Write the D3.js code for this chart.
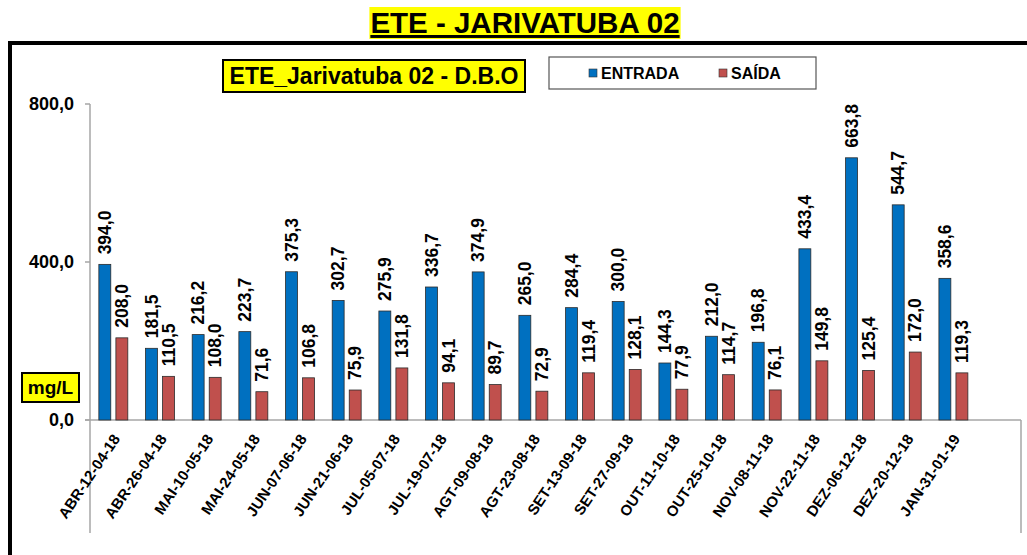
<!DOCTYPE html>
<html lang="pt">
<head>
  <meta charset="UTF-8">
  <title>ETE - JARIVATUBA 02</title>
  <script src="https://d3js.org/d3.v7.min.js"></script>
  <style>
    body { margin: 0; background: #ffffff; }
    svg { display: block; font-family: "Liberation Sans", Arial, sans-serif; font-weight: bold; }
  </style>
</head>
<body>
  <script>
    const width = 1027;
    const height = 555;

    const categories = ["ABR-12-04-18", "ABR-26-04-18", "MAI-10-05-18", "MAI-24-05-18", "JUN-07-06-18",
                        "JUN-21-06-18", "JUL-05-07-18", "JUL-19-07-18", "AGT-09-08-18", "AGT-23-08-18",
                        "SET-13-09-18", "SET-27-09-18", "OUT-11-10-18", "OUT-25-10-18", "NOV-08-11-18",
                        "NOV-22-11-18", "DEZ-06-12-18", "DEZ-20-12-18", "JAN-31-01-19"];
    const entrada = [394.0, 181.5, 216.2, 223.7, 375.3, 302.7, 275.9, 336.7, 374.9, 265.0,
                     284.4, 300.0, 144.3, 212.0, 196.8, 433.4, 663.8, 544.7, 358.6];
    const saida = [208.0, 110.5, 108.0, 71.6, 106.8, 75.9, 131.8, 94.1, 89.7, 72.9,
                   119.4, 128.1, 77.9, 114.7, 76.1, 149.8, 125.4, 172.0, 119.3];
    const seriesNames = ["ENTRADA", "SAÍDA"];
    const yTicks = [0, 400, 800];

    const colors = d3.scaleOrdinal().domain(seriesNames).range(["#0070C0", "#C0504D"]);
    const fmt = v => v.toFixed(1).replace(".", ",");

    const plot = { left: 90, right: 1021, top: 104, zero: 420, bottom: 533 };

    const x0 = d3.scaleBand().domain(categories).range([plot.left, plot.left + 46.67 * categories.length]);
    const x1 = d3.scaleBand().domain(seriesNames).range([0, x0.bandwidth()]).paddingInner(0.3).paddingOuter(0.52);
    const y = d3.scaleLinear().domain([0, 800]).range([plot.zero, plot.top]);

    const svg = d3.select("body").append("svg")
        .attr("width", width)
        .attr("height", height);

    // outer frame
    svg.append("path")
        .attr("d", `M10,${height + 5} L10,43 L${width + 5},43`)
        .attr("fill", "none")
        .attr("stroke", "#000")
        .attr("stroke-width", 4);

    // main title
    const title = svg.append("g");
    const titleText = title.append("text")
        .attr("x", 525).attr("y", 33)
        .attr("text-anchor", "middle")
        .attr("font-size", 29.5)
        .attr("text-decoration", "underline")
        .text("ETE - JARIVATUBA 02");
    const tb = titleText.node().getBBox();
    title.insert("rect", "text")
        .attr("x", tb.x - 1).attr("y", 7)
        .attr("width", tb.width + 2).attr("height", 32)
        .attr("fill", "#FFFF00");

    // axes lines
    const grid = svg.append("g").attr("stroke", "#A6A6A6").attr("stroke-width", 1.5);
    grid.append("line").attr("x1", plot.left).attr("x2", plot.left).attr("y1", plot.top).attr("y2", plot.bottom);
    grid.append("line").attr("x1", plot.right).attr("x2", plot.right).attr("y1", plot.zero).attr("y2", plot.bottom);
    grid.append("line").attr("x1", plot.left - 5).attr("x2", plot.right).attr("y1", plot.zero).attr("y2", plot.zero);
    grid.selectAll("line.tick").data(yTicks).join("line")
        .attr("class", "tick")
        .attr("x1", plot.left - 5).attr("x2", plot.left)
        .attr("y1", d => y(d)).attr("y2", d => y(d));

    svg.append("g").selectAll("text").data(yTicks).join("text")
        .attr("x", 74).attr("y", d => y(d))
        .attr("dy", "0.35em")
        .attr("text-anchor", "end")
        .attr("font-size", 18)
        .text(d => fmt(d));

    // bars
    const rows = categories.map((c, i) => ({ cat: c, values: [entrada[i], saida[i]] }));
    const groups = svg.append("g").selectAll("g").data(rows).join("g")
        .attr("transform", d => `translate(${x0(d.cat)},0)`);

    groups.selectAll("rect").data(d => d.values.map((v, j) => ({ key: seriesNames[j], v })))
      .join("rect")
        .attr("x", d => x1(d.key))
        .attr("y", d => y(d.v))
        .attr("width", x1.bandwidth())
        .attr("height", d => y(0) - y(d.v))
        .attr("fill", d => colors(d.key))
        .attr("stroke", "#2b2b2b")
        .attr("stroke-width", 0.8);

    groups.selectAll("text").data(d => d.values.map((v, j) => ({ key: seriesNames[j], v })))
      .join("text")
        .attr("transform", d => `translate(${x1(d.key) + x1.bandwidth() / 2},${y(d.v) - 10}) rotate(-90)`)
        .attr("dy", "0.35em")
        .attr("font-size", 17.5)
        .text(d => fmt(d.v));

    // category labels
    svg.append("g").selectAll("text").data(categories).join("text")
        .attr("transform", d => `translate(${x0(d) + x0.bandwidth() / 2 + 3},${plot.zero + 16}) rotate(-56)`)
        .attr("dy", "0.35em")
        .attr("text-anchor", "end")
        .attr("font-size", 15)
        .text(d => d);

    // chart subtitle
    svg.append("rect")
        .attr("x", 223).attr("y", 60).attr("width", 302).attr("height", 32)
        .attr("fill", "#FFFF00").attr("stroke", "#000").attr("stroke-width", 2);
    svg.append("text")
        .attr("x", 374).attr("y", 84)
        .attr("text-anchor", "middle")
        .attr("font-size", 23)
        .text("ETE_Jarivatuba 02 - D.B.O");

    // unit box
    svg.append("rect")
        .attr("x", 22).attr("y", 373).attr("width", 57).attr("height", 29)
        .attr("fill", "#FFFF00").attr("stroke", "#000").attr("stroke-width", 2);
    svg.append("text")
        .attr("x", 50.5).attr("y", 394)
        .attr("text-anchor", "middle")
        .attr("font-size", 19)
        .text("mg/L");

    // legend
    svg.append("rect")
        .attr("x", 549).attr("y", 57).attr("width", 267).attr("height", 32)
        .attr("fill", "#fff").attr("stroke", "#555").attr("stroke-width", 1.2);
    const legendX = [589, 719];
    const lg = svg.append("g").selectAll("g").data(seriesNames).join("g")
        .attr("transform", (d, i) => `translate(${legendX[i]},73)`);
    lg.append("rect")
        .attr("x", 0).attr("y", -4).attr("width", 8).attr("height", 8)
        .attr("fill", d => colors(d)).attr("stroke", "#333").attr("stroke-width", 0.6);
    lg.append("text")
        .attr("x", 12).attr("dy", "0.35em")
        .attr("font-size", 16)
        .text(d => d);
  </script>
</body>
</html>
